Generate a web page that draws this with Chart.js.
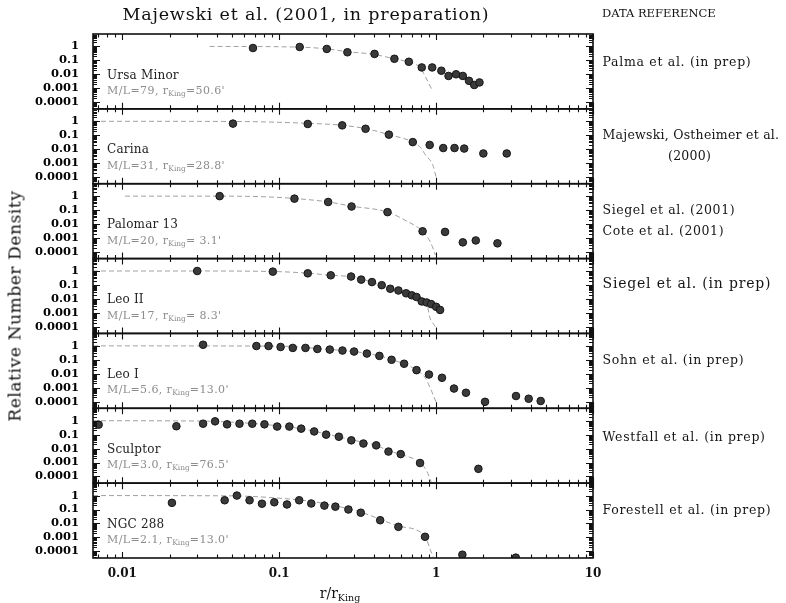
<!DOCTYPE html>
<html>
<head>
<meta charset="utf-8">
<script src="https://cdn.jsdelivr.net/npm/chart.js@4.4.1/dist/chart.umd.min.js"></script>
<style>
  body { margin: 0; background: #fff; }
  #wrap { position: relative; width: 786px; height: 603px; font-family: 'DejaVu Serif', serif; color: #111; overflow: hidden; }
  #chart { position: absolute; left: 0; top: 0; }
  .txt { position: absolute; white-space: pre; line-height: 1; transform: translateY(-50%); }
  .txt sub { font-size: 0.68em; vertical-align: -0.35em; line-height: 0; letter-spacing: 0; }
  #title { left: 306px; top: 15px; font-size: 17.5px; letter-spacing: 0.8px; transform: translate(-50%, -50%); }
  #refHead { left: 602px; top: 14px; font-size: 11.5px; }
  #ylabel { left: 15px; top: 306px; font-size: 17px; letter-spacing: 0.6px; transform: translate(-50%, -50%) rotate(-90deg); }
  #xlabel { left: 340px; top: 593px; font-size: 14px; transform: translate(-50%, -50%); }
  .name { font-size: 12px; color: #222; letter-spacing: 0.2px; }
  .ml { font-size: 11px; color: #8c8c8c; letter-spacing: 0.4px; }
  .ref { font-size: 12.5px; color: #151515; }
</style>
</head>
<body>
<div id="wrap">
  <canvas id="chart" width="786" height="603"></canvas>
  <div class="txt" id="title">Majewski et al. (2001, in preparation)</div>
  <div class="txt" id="refHead">DATA REFERENCE</div>
  <div class="txt" id="ylabel">Relative Number Density</div>
  <div class="txt" id="xlabel">r/r<sub>King</sub></div>
</div>
<script>
// ---- panel descriptions ----
const galaxies = ['Ursa Minor', 'Carina', 'Palomar 13', 'Leo II', 'Leo I', 'Sculptor', 'NGC 288'];
const massToLight = ['79', '31', '20', '17', '5.6', '3.0', '2.1'];
const kingRadius = ['50.6', '28.8', ' 3.1', ' 8.3', '13.0', '76.5', '13.0'];
const references = [
  ['Palma et al. (in prep)'],
  ['Majewski, Ostheimer et al.', '(2000)'],
  ['Siegel et al. (2001)', 'Cote et al. (2001)'],
  ['Siegel et al. (in prep)'],
  ['Sohn et al. (in prep)'],
  ['Westfall et al. (in prep)'],
  ['Forestell et al. (in prep)']
];

// ---- tick labels ----
const xTickLabels = [0.01, 0.1, 1, 10];
const yTickLabels = [1, 0.1, 0.01, 0.001, 0.0001];

// ---- observed profiles: [r/rKing, relative density] ----
const umiPoints = [[0.068, 0.77], [0.135, 0.91], [0.201, 0.66], [0.272, 0.38], [0.405, 0.29], [0.542, 0.13], [0.67, 0.079], [0.81, 0.031], [0.944, 0.031], [1.08, 0.018], [1.2, 0.0076], [1.34, 0.01], [1.48, 0.0076], [1.62, 0.0034], [1.75, 0.0017], [1.89, 0.0026]];
const carPoints = [[0.0507, 0.68], [0.152, 0.64], [0.252, 0.51], [0.355, 0.29], [0.50, 0.11], [0.71, 0.032], [0.91, 0.020], [1.11, 0.012], [1.31, 0.012], [1.51, 0.011], [2.0, 0.0049], [2.82, 0.0049]];
const palPoints = [[0.0417, 1.0], [0.125, 0.66], [0.205, 0.38], [0.289, 0.18], [0.49, 0.071], [0.82, 0.003], [1.14, 0.0027], [1.48, 0.00048], [1.79, 0.00066], [2.46, 0.00041]];
const leo2Points = [[0.030, 1.0], [0.091, 0.9], [0.152, 0.68], [0.213, 0.49], [0.287, 0.4], [0.333, 0.24], [0.39, 0.16], [0.45, 0.096], [0.51, 0.053], [0.575, 0.04], [0.644, 0.025], [0.70, 0.018], [0.75, 0.0136], [0.81, 0.0065], [0.87, 0.0055], [0.93, 0.0042], [1.0, 0.0027], [1.06, 0.0016]];
const leo1Points = [[0.0327, 1.2], [0.0715, 0.97], [0.0855, 0.97], [0.102, 0.83], [0.122, 0.71], [0.147, 0.71], [0.175, 0.6], [0.21, 0.54], [0.253, 0.46], [0.30, 0.39], [0.362, 0.28], [0.435, 0.19], [0.52, 0.1], [0.625, 0.052], [0.75, 0.018], [0.90, 0.0088], [1.09, 0.0051], [1.3, 0.00086], [1.55, 0.00043], [2.05, 0.000096], [3.23, 0.00025], [3.89, 0.00016], [4.64, 0.00011]];
const sclPoints = [[0.00706, 0.52], [0.0221, 0.4], [0.0327, 0.61], [0.039, 0.9], [0.0465, 0.55], [0.0558, 0.61], [0.0673, 0.61], [0.0805, 0.55], [0.097, 0.38], [0.116, 0.38], [0.138, 0.27], [0.167, 0.17], [0.199, 0.10], [0.24, 0.071], [0.288, 0.039], [0.344, 0.023], [0.415, 0.017], [0.497, 0.0061], [0.595, 0.004], [0.79, 0.00092], [1.86, 0.00035]];
const ngcPoints = [[0.0207, 0.30], [0.0449, 0.46], [0.0537, 1.0], [0.0647, 0.46], [0.0776, 0.26], [0.093, 0.33], [0.112, 0.23], [0.134, 0.46], [0.16, 0.27], [0.194, 0.19], [0.228, 0.16], [0.276, 0.10], [0.331, 0.059], [0.44, 0.017], [0.575, 0.0057], [0.85, 0.0011], [1.47, 0.000057], [3.22, 0.000035]];

// ---- King model curves ----
const umiKing = [[0.036, 1], [0.1, 0.95], [0.2, 0.68], [0.27, 0.42], [0.4, 0.27], [0.54, 0.13], [0.67, 0.075], [0.79, 0.03], [0.87, 0.0045], [0.94, 0.0008]];
const carKing = [[0.0065, 1], [0.05, 0.97], [0.15, 0.72], [0.25, 0.52], [0.36, 0.29], [0.5, 0.11], [0.71, 0.032], [0.8, 0.012], [0.86, 0.0035], [0.95, 0.0008], [1.0, 0.0001]];
const palKing = [[0.0104, 1], [0.042, 1], [0.08, 0.9], [0.125, 0.68], [0.2, 0.4], [0.29, 0.19], [0.49, 0.072], [0.65, 0.016], [0.82, 0.003], [0.92, 0.0005], [0.99, 0.00006]];
const leo2King = [[0.0065, 1], [0.03, 1], [0.091, 0.92], [0.152, 0.7], [0.21, 0.5], [0.29, 0.38], [0.39, 0.16], [0.51, 0.053], [0.64, 0.025], [0.75, 0.0136], [0.87, 0.0055], [0.91, 0.0005], [0.99, 0.0001]];
const leo1King = [[0.0065, 1], [0.1, 0.95], [0.21, 0.55], [0.3, 0.39], [0.435, 0.19], [0.52, 0.1], [0.625, 0.052], [0.75, 0.018], [0.85, 0.0054], [0.94, 0.0005], [1.0, 0.00009]];
const sclKing = [[0.0065, 1], [0.03, 0.95], [0.06, 0.7], [0.1, 0.42], [0.14, 0.26], [0.2, 0.11], [0.29, 0.042], [0.42, 0.016], [0.5, 0.0068], [0.6, 0.0038], [0.79, 0.00095], [0.87, 0.00025], [0.93, 0.00004]];
const ngcKing = [[0.0065, 1], [0.05, 0.95], [0.1, 0.65], [0.16, 0.38], [0.23, 0.18], [0.33, 0.065], [0.44, 0.02], [0.575, 0.0065], [0.85, 0.0012], [0.92, 0.00012], [0.96, 0.00004]];

const profiles = [umiPoints, carPoints, palPoints, leo2Points, leo1Points, sclPoints, ngcPoints];
const kingFits = [umiKing, carKing, palKing, leo2King, leo1King, sclKing, ngcKing];

// ---- layout ----
const X_MIN = 0.0065, X_MAX = 10;
const Y_MIN = 3.3e-5, Y_MAX = 7.8;
const refY = [[61.7], [135, 155.7], [210, 231], [283.3], [360], [436.7], [510]];
const refX = [[602.5], [602.5, 668], [602.5, 602.5], [602.5], [602.5], [602.5], [602.5]];
const refSize = [12.5, 12.5, 12.5, 14, 12.5, 12.5, 12.5];
const refSpacing = [0.7, 0.25, 0.6, 0.8, 0.7, 0.7, 0.7];

const toXY = arr => arr.map(([x, y]) => ({ x, y }));
const isLabel = (v, list) => list.find(t => Math.abs(Math.log10(v / t)) < 1e-6);

// ---- datasets ----
const datasets = [];
galaxies.forEach((g, i) => {
  datasets.push({
    type: 'line',
    label: g + ' King model',
    data: toXY(kingFits[i]),
    yAxisID: 'y' + i,
    borderColor: '#a0a0a0',
    borderWidth: 1,
    borderDash: [5, 3],
    pointRadius: 0,
    cubicInterpolationMode: 'monotone',
    fill: false,
    order: 2
  });
  datasets.push({
    type: 'scatter',
    label: g,
    data: toXY(profiles[i]),
    yAxisID: 'y' + i,
    backgroundColor: '#3a3a3a',
    borderColor: '#141414',
    borderWidth: 1,
    pointRadius: 3.8,
    order: 1
  });
});

// ---- scales ----
const scales = {
  x: {
    type: 'logarithmic',
    position: 'bottom',
    min: X_MIN,
    max: X_MAX,
    grid: { display: false, drawTicks: false },
    border: { display: false },
    ticks: {
      autoSkip: false,
      maxRotation: 0,
      padding: 9,
      color: '#111',
      font: { family: 'DejaVu Serif', size: 12, weight: 'bold' },
      callback: v => { const t = isLabel(v, xTickLabels); return t !== undefined ? String(t) : ''; }
    },
    afterFit: s => { s.height = 45; }
  }
};
galaxies.forEach((g, i) => {
  scales['y' + i] = {
    type: 'logarithmic',
    position: 'left',
    stack: 'panels',
    stackWeight: 1,
    weight: galaxies.length - i,
    min: Y_MIN,
    max: Y_MAX,
    grid: { display: false, drawTicks: false },
    border: { display: false },
    ticks: {
      autoSkip: false,
      padding: 14,
      color: '#000',
      font: { family: 'DejaVu Serif', size: 11.5, weight: 'bold' },
      callback: v => { const t = isLabel(v, yTickLabels); return t !== undefined ? String(t) : ''; }
    },
    afterFit: s => { s.width = 93; }
  };
});

// log tick positions (1..9 x 10^n) inside [min, max]
function decadeSteps(min, max) {
  const out = [];
  for (let e = Math.floor(Math.log10(min)); e <= Math.ceil(Math.log10(max)); e++) {
    for (let m = 1; m <= 9; m++) {
      const v = m * Math.pow(10, e);
      if (v >= min * 0.9999 && v <= max * 1.0001) out.push([v, m === 1]);
    }
  }
  return out;
}

// frames with inward ticks for every panel
const panelFrames = {
  id: 'panelFrames',
  afterDatasetsDraw(chart) {
    const { ctx, chartArea: a } = chart;
    const xs = chart.scales.x;
    ctx.save();
    ctx.strokeStyle = '#111';
    galaxies.forEach((g, i) => {
      const ys = chart.scales['y' + i];
      ctx.lineWidth = 1.6;
      ctx.strokeRect(a.left, ys.top, a.right - a.left, ys.bottom - ys.top);
      ctx.lineWidth = 1.1;
      ctx.beginPath();
      decadeSteps(xs.min, xs.max).forEach(([v, major]) => {
        const px = Math.round(xs.getPixelForValue(v)) + 0.5;
        const len = major ? 6 : 3.5;
        ctx.moveTo(px, ys.top); ctx.lineTo(px, ys.top + len);
        ctx.moveTo(px, ys.bottom); ctx.lineTo(px, ys.bottom - len);
      });
      decadeSteps(ys.min, ys.max).forEach(([v, major]) => {
        const py = Math.round(ys.getPixelForValue(v)) + 0.5;
        const len = major ? 7 : 4;
        ctx.moveTo(a.left, py); ctx.lineTo(a.left + len, py);
        ctx.moveTo(a.right, py); ctx.lineTo(a.right - len, py);
      });
      ctx.stroke();
    });
    ctx.restore();
  }
};

const chart = new Chart(document.getElementById('chart'), {
  type: 'scatter',
  data: { datasets },
  options: {
    responsive: false,
    animation: false,
    devicePixelRatio: 1,
    layout: { padding: { top: 34, right: 193, bottom: 0, left: 0 } },
    plugins: { legend: { display: false }, tooltip: { enabled: false } },
    scales
  },
  plugins: [panelFrames]
});

// ---- text labels placed from the panel geometry ----
const wrap = document.getElementById('wrap');
function addText(cls, html, left, top, size, spacing) {
  const d = document.createElement('div');
  d.className = 'txt ' + cls;
  d.innerHTML = html;
  d.style.left = left + 'px';
  d.style.top = top + 'px';
  if (size) d.style.fontSize = size + 'px';
  if (spacing !== undefined) d.style.letterSpacing = spacing + 'px';
  wrap.appendChild(d);
}
galaxies.forEach((g, i) => {
  const ys = chart.scales['y' + i];
  addText('name', g, 107, ys.top + 40.5);
  addText('ml', 'M/L=' + massToLight[i] + ', r<sub>King</sub>=' + kingRadius[i] + "'", 107, ys.top + 56);
  references[i].forEach((line, k) => addText('ref', line, refX[i][k], refY[i][k], refSize[i], refSpacing[i]));
});
</script>
</body>
</html>
